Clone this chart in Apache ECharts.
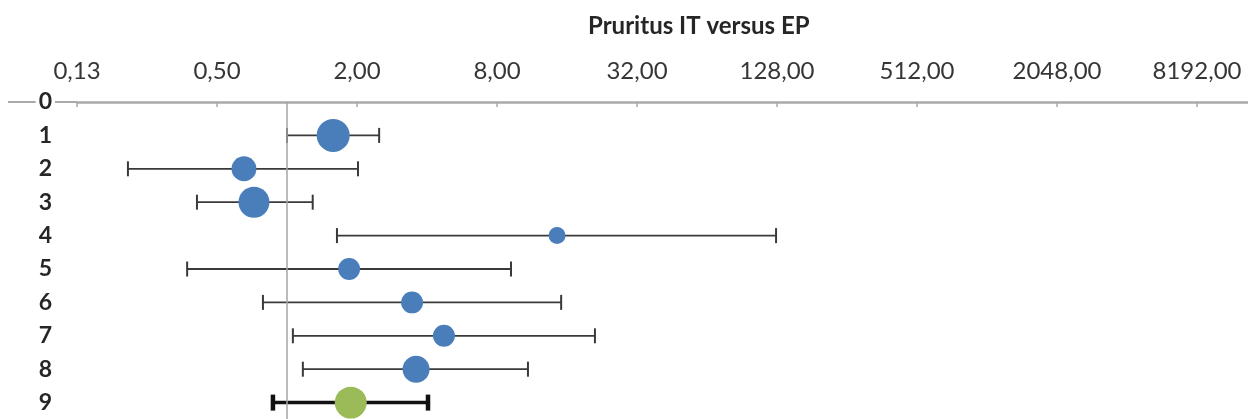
<!DOCTYPE html>
<html>
<head>
<meta charset="utf-8">
<script src="https://cdn.jsdelivr.net/npm/echarts@6/dist/echarts.min.js"></script>
<style>
html,body{margin:0;padding:0;background:#fff;}
#chart{width:1248px;height:419px;}
</style>
</head>
<body>
<div id="chart"></div>
<script>
// ---- data ----
const chartTitle = 'Pruritus IT versus EP';
const rows      = [1, 2, 3, 4, 5, 6, 7, 8, 9];
const estimates = [1.58, 0.653, 0.721, 14.5, 1.85, 3.45, 4.73, 3.59, 1.88];
const lowerCI   = [1.0, 0.207, 0.41, 1.64, 0.372, 0.788, 1.06, 1.17, 0.87];
const upperCI   = [2.49, 2.02, 1.29, 126.8, 9.19, 15.1, 21.1, 10.87, 4.04];
const weights   = [109, 62, 96, 29, 48, 48, 48, 73, 102];
const pooled    = [0, 0, 0, 0, 0, 0, 0, 0, 1];
const xTicks    = [0.125, 0.5, 2, 8, 32, 128, 512, 2048, 8192];
const yTicks    = [0, 1, 2, 3, 4, 5, 6, 7, 8, 9];
const refValue  = 1;

// ---- build series data ----
const studyPts = [], pooledPts = [], bars = [];
rows.forEach((r, i) => {
  const p = [estimates[i], r, weights[i]];
  (pooled[i] ? pooledPts : studyPts).push(p);
  bars.push([r, lowerCI[i], upperCI[i], pooled[i]]);
});

const chart = echarts.init(document.getElementById('chart'));
const FONT = 'Lato';

chart.setOption({
  animation: false,
  backgroundColor: '#ffffff',
  title: {
    text: chartTitle,
    left: 583, top: 9,
    textStyle: {fontFamily: FONT, fontSize: 24, fontWeight: 'bold', color: '#262626'}
  },
  grid: {left: 77, top: 102, width: 1190, height: 334, containLabel: false, outerBoundsMode: 'none'},
  xAxis: {
    type: 'log', logBase: 2, min: 0.125, max: 16384, position: 'top',
    axisLine: {show: true, lineStyle: {color: '#a9a9a9', width: 2.5}},
    axisTick: {show: true, inside: true, length: 5, customValues: xTicks,
               lineStyle: {color: '#a9a9a9', width: 1.5}},
    axisLabel: {customValues: xTicks, margin: 19, fontFamily: FONT, fontSize: 24, color: '#363636',
                formatter: v => Number(v).toFixed(2).replace('.', ',')},
    splitLine: {show: false}, minorTick: {show: false}
  },
  yAxis: {
    type: 'value', inverse: true, min: 0, max: 10, interval: 1,
    axisLine: {show: false},
    axisTick: {show: true, customValues: [0], length: 69, lineStyle: {color: '#a9a9a9', width: 2}},
    axisLabel: {customValues: yTicks, margin: 22, fontFamily: FONT, fontSize: 23, fontWeight: 'bold',
                color: '#262626', backgroundColor: '#ffffff', padding: [0, 3]},
    splitLine: {show: false}
  },
  series: [
    {
      type: 'scatter', data: [], z: 1, silent: true,
      markLine: {
        silent: true, symbol: 'none', label: {show: false},
        lineStyle: {color: '#a6a6a6', width: 1.5, type: 'solid'},
        data: [{xAxis: refValue}]
      }
    },
    {
      type: 'custom', z: 2, silent: true,
      encode: {x: [1, 2], y: 0},
      data: bars,
      renderItem: function (params, api) {
        const y = api.value(0);
        const lo = api.coord([api.value(1), y]);
        const hi = api.coord([api.value(2), y]);
        const isPooled = api.value(3) === 1;
        const h = isPooled ? 8 : 7.5;
        const lw = isPooled ? 3.5 : 1.8;
        const cw = isPooled ? 4.5 : 2;
        const color = isPooled ? '#111111' : '#3a3a3a';
        return {
          type: 'group',
          children: [
            {type: 'line', shape: {x1: lo[0], y1: lo[1], x2: hi[0], y2: hi[1]}, style: {stroke: color, lineWidth: lw}},
            {type: 'line', shape: {x1: lo[0], y1: lo[1] - h, x2: lo[0], y2: lo[1] + h}, style: {stroke: color, lineWidth: cw}},
            {type: 'line', shape: {x1: hi[0], y1: hi[1] - h, x2: hi[0], y2: hi[1] + h}, style: {stroke: color, lineWidth: cw}}
          ]
        };
      }
    },
    {
      type: 'scatter', z: 3, silent: true,
      data: studyPts,
      symbolSize: v => Math.sqrt(v[2] * 10),
      itemStyle: {color: '#4a7ebb', opacity: 1}
    },
    {
      type: 'scatter', z: 3, silent: true,
      data: pooledPts,
      symbolSize: v => Math.sqrt(v[2] * 10),
      itemStyle: {color: '#9bbb59', opacity: 1}
    }
  ]
});
</script>
</body>
</html>
